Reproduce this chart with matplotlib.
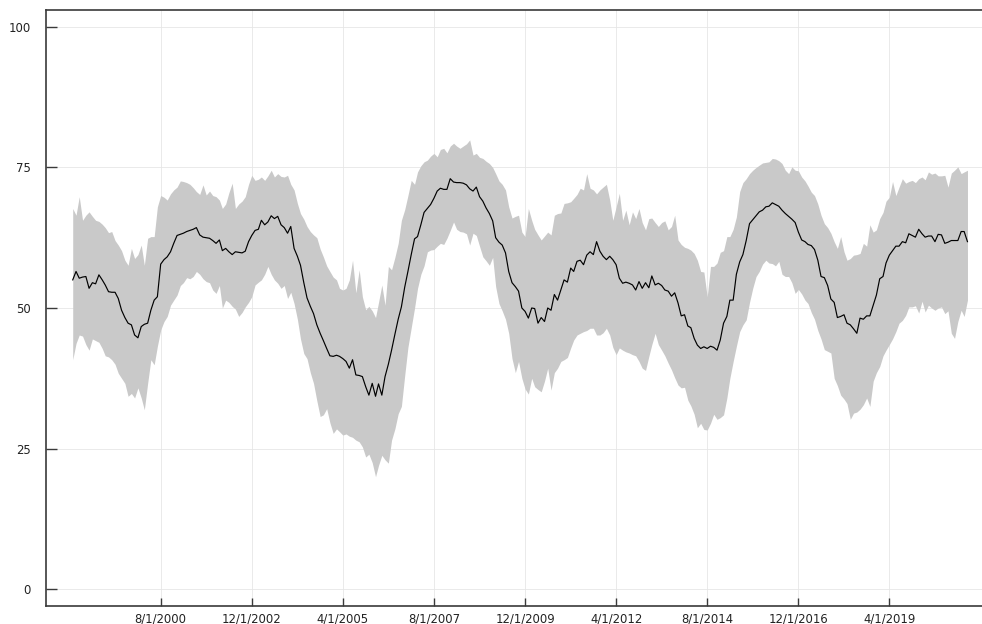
import matplotlib
matplotlib.use("Agg")
import matplotlib.pyplot as plt
import matplotlib.dates as mdates
import pandas as pd
import numpy as np

start_month = "1998-05-01"

mean_vals = [
    55.0,56.5,55.3,55.5,55.6,53.5,54.5,54.3,55.9,55.0,54.1,52.9,
    52.8,52.8,51.7,49.6,48.3,47.3,47.0,45.2,44.7,46.7,47.1,47.3,
    49.6,51.4,52.0,57.8,58.6,59.1,60.0,61.5,62.9,63.1,63.3,63.6,
    63.8,64.0,64.3,63.0,62.6,62.5,62.4,62.0,61.5,62.1,60.2,60.6,
    60.0,59.5,60.0,59.9,59.8,60.1,61.8,62.9,63.8,64.0,65.6,64.8,
    65.3,66.4,65.9,66.3,64.8,64.3,63.3,64.5,60.6,59.2,57.6,54.5,
    51.8,50.3,49.0,47.0,45.5,44.2,42.8,41.5,41.4,41.6,41.4,41.0,
    40.5,39.3,40.8,38.1,38.0,37.8,36.0,34.5,36.6,34.3,36.5,34.5,
    37.8,40.0,42.5,45.3,48.0,50.2,53.7,56.5,59.5,62.3,62.7,64.8,
    67.0,67.7,68.4,69.5,70.8,71.3,71.1,71.1,73.0,72.4,72.3,72.3,
    72.2,71.9,71.2,70.8,71.5,69.8,69.0,67.8,66.8,65.5,62.5,61.7,
    61.2,59.8,56.5,54.5,53.8,53.0,50.0,49.4,48.2,50.0,49.9,47.3,
    48.3,47.6,50.0,49.6,52.4,51.4,53.2,55.0,54.6,57.1,56.5,58.3,
    58.5,57.7,59.4,60.0,59.5,61.8,60.1,59.2,58.6,59.2,58.6,57.7,
    55.3,54.4,54.6,54.4,54.1,53.2,54.7,53.5,54.5,53.6,55.7,54.1,
    54.4,54.0,53.2,53.0,52.1,52.7,50.9,48.6,48.8,46.8,46.5,44.6,
    43.4,42.8,43.1,42.8,43.2,43.0,42.5,44.3,47.3,48.5,51.4,51.4,
    56.0,58.2,59.5,62.0,65.0,65.7,66.4,67.1,67.4,68.0,68.1,68.7,
    68.4,68.1,67.4,66.8,66.3,65.8,65.2,63.5,62.1,61.8,61.3,61.1,
    60.4,58.5,55.6,55.4,54.0,51.6,51.0,48.3,48.5,48.8,47.3,47.0,
    46.3,45.5,48.2,48.0,48.6,48.6,50.5,52.3,55.2,55.6,58.0,59.4,
    60.2,61.0,61.0,61.8,61.6,63.2,62.9,62.6,64.0,63.2,62.6,62.8,
    62.8,61.8,63.1,63.0,61.5,61.7,62.0,62.0,62.0,63.6,63.6,61.8,
]

upper_vals = [
    67.7,66.5,69.8,65.6,66.5,67.1,66.3,65.6,65.4,64.9,64.3,63.4,
    63.6,62.0,61.2,60.2,58.5,57.6,60.6,58.8,59.5,61.2,57.6,62.4,
    62.7,62.7,68.0,70.0,69.7,69.2,70.3,71.0,71.5,72.6,72.5,72.3,
    72.0,71.4,70.7,70.2,71.9,70.1,70.8,70.0,69.8,69.2,67.7,68.5,
    70.5,72.2,67.7,68.5,69.0,69.8,72.0,73.6,72.7,72.9,73.3,72.7,
    73.5,74.5,73.3,73.9,73.4,73.3,73.6,72.0,71.0,68.6,66.8,65.8,
    64.5,63.6,63.0,62.5,60.5,59.1,57.5,56.5,55.5,55.0,53.5,53.2,
    53.5,55.0,58.5,52.7,56.8,52.0,49.7,50.3,49.5,48.3,51.0,54.1,
    50.5,57.4,56.8,59.0,61.5,65.6,67.5,70.0,72.7,72.0,74.2,75.3,
    76.0,76.3,77.0,77.5,76.9,78.2,78.4,77.6,78.8,79.3,78.8,78.4,
    78.8,79.2,79.9,77.2,77.5,76.8,76.6,76.1,75.7,75.0,73.9,72.6,
    72.0,71.0,68.0,66.0,66.3,66.5,63.5,62.7,67.7,65.6,64.0,63.0,
    62.1,62.8,63.5,63.0,66.5,66.8,66.9,68.6,68.7,68.9,69.5,70.2,
    71.3,71.0,73.9,71.3,71.0,70.3,71.0,71.5,72.0,69.2,65.6,68.0,
    70.4,65.6,67.4,64.8,67.1,65.9,67.7,65.2,63.9,65.9,66.0,65.2,
    64.5,65.2,65.5,63.9,64.5,66.5,62.1,61.3,60.8,60.6,60.3,59.7,
    58.5,56.5,56.4,52.0,57.4,57.4,58.0,59.9,60.2,62.7,62.7,64.0,
    66.2,70.7,72.3,73.0,73.9,74.5,75.0,75.4,75.8,75.9,76.0,76.6,
    76.5,76.2,75.7,74.5,73.9,75.1,74.5,74.4,73.3,72.6,71.7,70.6,
    70.0,68.5,66.5,65.0,64.3,63.3,61.8,60.6,62.7,60.0,58.5,58.8,
    59.4,59.5,59.7,61.5,61.0,64.8,63.5,63.9,65.9,67.0,69.0,69.7,
    72.5,70.0,71.5,73.0,72.2,72.5,72.7,72.3,73.0,73.3,72.8,74.2,
    73.8,74.0,73.5,73.5,73.6,71.5,74.0,74.5,75.1,73.9,74.2,74.5,
]

lower_vals = [
    40.8,43.7,45.2,45.0,43.5,42.5,44.5,44.2,43.9,42.8,41.5,41.3,
    40.8,40.0,38.4,37.5,36.6,34.3,34.8,34.0,35.8,34.0,31.9,36.6,
    40.8,39.9,43.2,46.1,47.6,48.5,50.5,51.4,52.3,54.0,54.5,55.4,
    55.2,55.6,56.5,56.0,55.2,54.7,54.5,53.2,52.6,54.0,50.0,51.4,
    51.0,50.3,49.8,48.5,49.2,50.2,51.0,52.0,54.1,54.6,55.0,56.0,
    57.4,56.0,55.0,54.4,53.5,54.0,51.7,52.8,50.8,48.0,44.5,41.9,
    41.0,38.5,36.6,33.5,30.7,31.0,32.1,29.6,27.7,28.5,28.0,27.4,
    27.6,27.2,27.0,26.5,26.2,25.3,23.5,24.0,22.5,20.0,22.0,23.8,
    23.0,22.4,26.5,28.5,31.2,32.5,38.0,43.0,46.5,50.0,53.5,56.0,
    57.5,60.0,60.3,60.4,61.0,61.5,61.3,62.4,63.8,65.3,64.0,63.6,
    63.5,63.2,61.2,63.3,62.9,61.0,59.1,58.4,57.6,59.0,53.8,50.8,
    49.5,48.0,45.5,41.0,38.5,40.5,37.5,35.6,34.7,37.5,36.0,35.5,
    35.1,37.0,39.3,35.4,38.5,39.3,40.5,40.8,41.2,42.9,44.3,45.2,
    45.5,45.8,46.0,46.4,46.4,45.2,45.2,45.6,46.4,45.2,43.0,41.7,
    42.9,42.5,42.2,42.0,41.7,41.5,40.5,39.3,38.9,41.4,43.5,45.5,
    43.5,42.5,41.5,40.2,39.0,37.6,36.3,35.8,35.9,33.6,32.6,31.1,
    28.7,29.5,28.4,28.3,29.5,31.1,30.2,30.5,31.0,34.0,37.5,40.5,
    43.2,45.8,47.0,47.9,51.0,53.5,55.6,56.5,57.8,58.5,58.0,57.9,
    57.5,58.3,56.0,55.6,55.6,54.5,52.6,53.3,52.5,51.4,50.8,49.2,
    48.0,46.0,44.5,42.6,42.3,42.0,37.5,36.2,34.5,33.8,33.0,30.2,
    31.3,31.5,32.0,32.8,34.0,32.5,37.0,38.5,39.6,41.5,42.5,43.5,
    44.5,45.8,47.3,47.8,48.7,50.2,50.2,50.4,49.1,51.2,49.3,50.5,
    50.0,49.6,50.0,50.2,49.0,49.5,45.5,44.6,47.6,49.6,48.5,51.4,
]

x_tick_labels = ["8/1/2000", "12/1/2002", "4/1/2005", "8/1/2007", "12/1/2009",
                 "4/1/2012", "8/1/2014", "12/1/2016", "4/1/2019"]
y_ticks = [0, 25, 50, 75, 100]

dates = pd.date_range(start_month, periods=len(mean_vals), freq="MS")
xnum = mdates.date2num(dates.to_pydatetime())
tick_pos = mdates.date2num(pd.to_datetime(x_tick_labels, format="%m/%d/%Y").to_pydatetime())

fig = plt.figure(figsize=(9.82, 6.24), dpi=100)
ax = fig.add_axes([46 / 982, 18 / 624, 936 / 982, 596 / 624])

ax.fill_between(xnum, lower_vals, upper_vals, color="#c9c9c9", linewidth=0, zorder=2)
ax.plot(xnum, mean_vals, color="black", linewidth=0.85, zorder=3)

ax.set_xlim(mdates.date2num(pd.Timestamp("1997-08-24")), mdates.date2num(pd.Timestamp("2021-08-15")))
ax.set_ylim(-3, 103)

ax.set_xticks(tick_pos)
ax.set_xticklabels(x_tick_labels)
ax.set_yticks(y_ticks)
ax.set_yticklabels([str(v) for v in y_ticks])

ax.grid(True, color="#e6e6e6", linewidth=0.6, zorder=0)
ax.set_axisbelow(True)

for s in ["left", "bottom", "top"]:
    ax.spines[s].set_color("#3a3a3a")
    ax.spines[s].set_linewidth(1.2)
ax.spines["right"].set_visible(False)

ax.tick_params(axis="y", direction="in", length=8, width=1.0, color="#3a3a3a",
               labelsize=8.4, pad=11, labelcolor="#222222")
ax.tick_params(axis="x", direction="in", length=5.5, width=1.0, color="#3a3a3a",
               labelsize=8.4, pad=5, labelcolor="#222222")
ax.tick_params(top=False, right=False)

fig.savefig("out.png", dpi=100)
